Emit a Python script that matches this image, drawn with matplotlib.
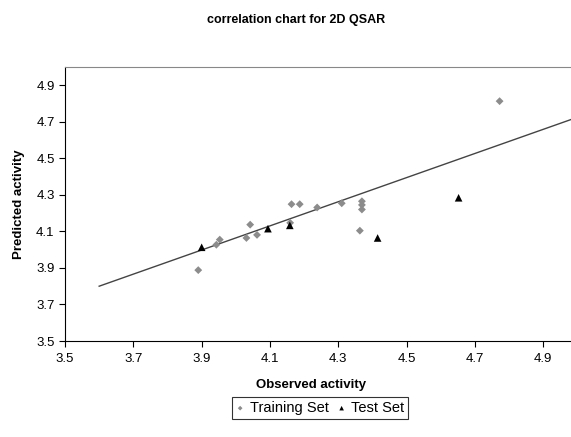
import matplotlib
matplotlib.use("Agg")
import matplotlib.pyplot as plt

plt.rcParams['font.family'] = ['Liberation Sans', 'DejaVu Sans']

# training set (observed, predicted)
train_obs = [3.89, 3.943, 3.953, 4.031, 4.042, 4.062, 4.159, 4.163, 4.187,
             4.238, 4.310, 4.369, 4.369, 4.369, 4.363, 4.772]
train_pred = [3.888, 4.027, 4.055, 4.064, 4.137, 4.081, 4.147, 4.249, 4.249,
              4.231, 4.254, 4.265, 4.245, 4.22, 4.104, 4.813]

# test set
test_obs = [3.90, 4.094, 4.158, 4.415, 4.652]
test_pred = [4.013, 4.115, 4.133, 4.064, 4.284]

# trend line end points
line_x = [3.6, 5.0]
line_y = [3.80, 4.725]

ticks = [3.5, 3.7, 3.9, 4.1, 4.3, 4.5, 4.7, 4.9]
tick_labels = ["3.5", "3.7", "3.9", "4.1", "4.3", "4.5", "4.7", "4.9"]

fig = plt.figure(figsize=(5.71, 4.37), dpi=100)
# the plot area runs a little past the right edge of the picture
ax = fig.add_axes([65 / 571, 1 - 341 / 437, 512.5 / 571, 274 / 437])

ax.plot(line_x, line_y, color='#444444', lw=1.0, zorder=2)
tr = ax.scatter(train_obs, train_pred, marker='D', s=16, color='#8c8c8c',
                edgecolors='none', zorder=3, label='Training Set')
te = ax.scatter(test_obs, test_pred, marker='^', s=30, color='black',
                edgecolors='none', zorder=4, label='Test Set')

ax.set_xlim(3.5, 5.0)
ax.set_ylim(3.5, 5.0)
ax.set_xticks(ticks)
ax.set_xticklabels(tick_labels)
ax.set_yticks(ticks)
ax.set_yticklabels(tick_labels)
ax.tick_params(direction='out', length=4, width=0.8, labelsize=9.5, colors='black')
ax.tick_params(axis='x', pad=5)

ax.spines['left'].set_color('black')
ax.spines['bottom'].set_color('black')
ax.spines['top'].set_color('#888888')
ax.spines['right'].set_visible(False)

ax.set_xlabel('Observed activity', fontsize=9.5, fontweight='bold')
ax.xaxis.set_label_coords((311 - 65) / 512.5, -0.14)
ax.set_ylabel('Predicted activity', fontsize=9.5, fontweight='bold', labelpad=8)
fig.text(296 / 571, 1 - 20 / 437, 'correlation chart for 2D QSAR', ha='center',
         va='center', fontsize=9, fontweight='bold')

leg = fig.legend(handles=[tr, te], loc='center', bbox_to_anchor=(320 / 571, 1 - 408 / 437),
                 ncol=2, fontsize=10.5, frameon=True, fancybox=False,
                 handlelength=0.6, handletextpad=0.35, columnspacing=0.6,
                 borderpad=0.25, borderaxespad=0, markerscale=0.6)
leg.get_frame().set_edgecolor('black')
leg.get_frame().set_linewidth(0.8)

fig.savefig('out.png', dpi=100)
